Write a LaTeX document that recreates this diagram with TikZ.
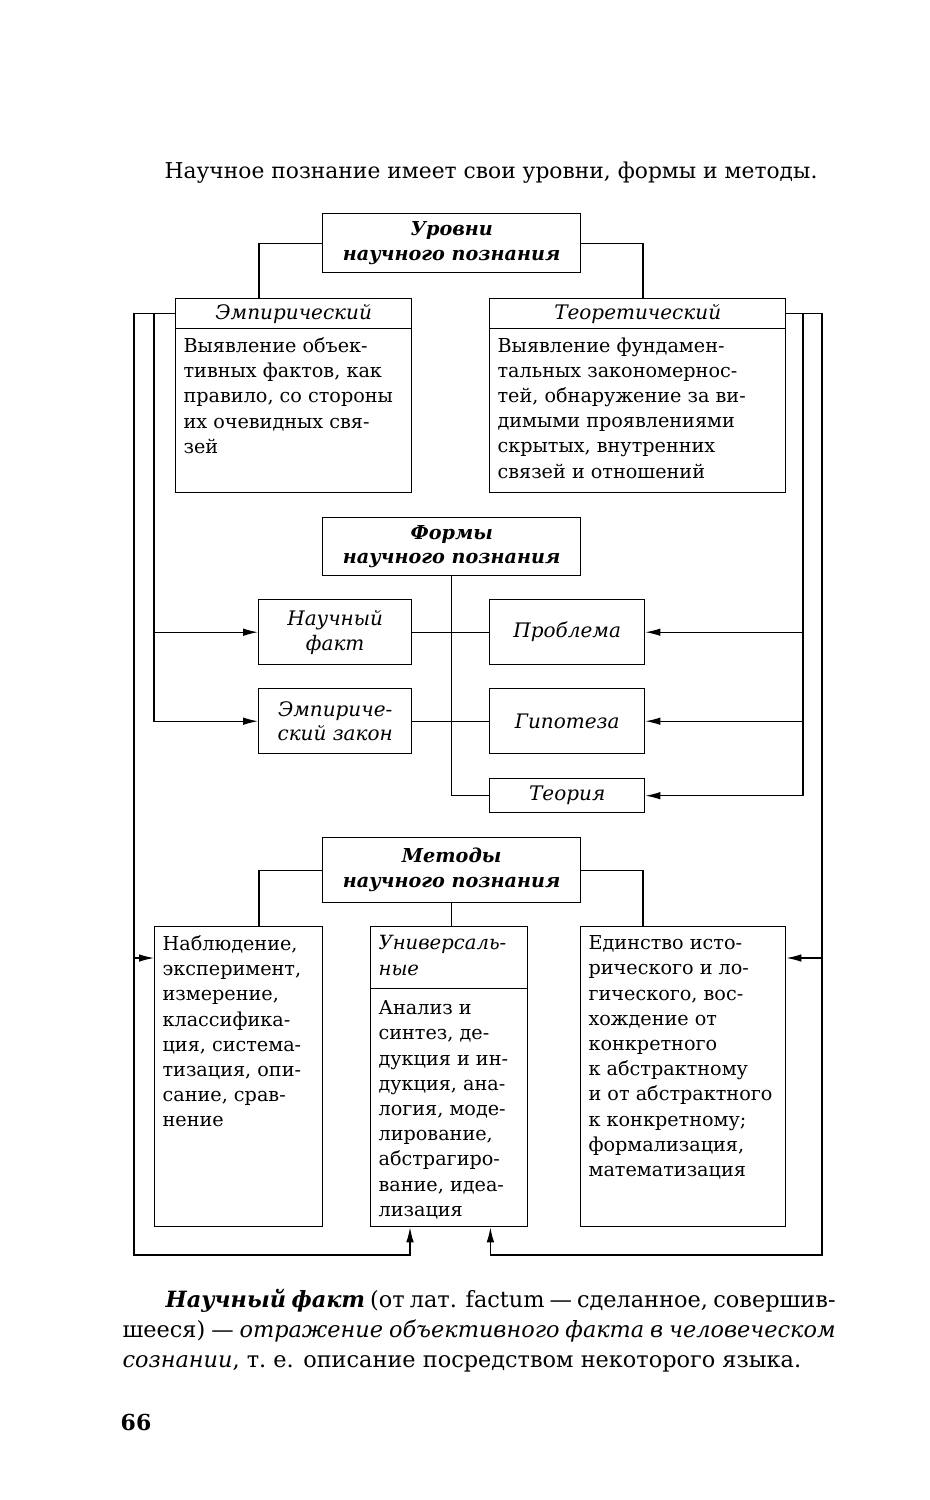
\documentclass[tikz,border=0pt]{standalone}
\usepackage{fontspec}
\setmainfont{DejaVu Serif}
\usetikzlibrary{arrows.meta}
\begin{document}
\begin{tikzpicture}[x=0.5pt,y=-0.5pt,
    every node/.style={black},
    box/.style={draw,line width=0.7pt,inner sep=0pt,anchor=north west},
    head/.style={font=\fontsize{9.6}{12.4}\selectfont\bfseries\itshape,align=center},
    lbl/.style={font=\fontsize{10}{12.4}\selectfont\itshape,align=center},
    txt/.style={font=\fontsize{9.6}{12.6}\selectfont,align=left,inner sep=0pt,anchor=north west},
    arr/.style={-{Latex[length=7.5pt,width=3.8pt]}},
    line width=0.6pt
  ]
  \useasboundingbox (0,0) rectangle (930,1500);
  \node[font=\fontsize{10.9}{13}\selectfont] (intro) at (491,173) {Научное познание имеет свои уровни, формы и методы.};

  % levels
  \node[box,head,minimum width=129pt,minimum height=29.5pt] (urovni) at (322,213) {Уровни\\научного познания};
  \node[box,lbl,minimum width=118pt,minimum height=15pt] (emptitle) at (175,298) {Эмпирический};
  \node[box,minimum width=118pt,minimum height=82pt] (emp) at (175,328) {};
  \node[txt] (emptxt) at ([xshift=4pt,yshift=-4.5pt]emp.north west) {Выявление объек-\\тивных фактов, как\\правило, со стороны\\их очевидных свя-\\зей};
  \node[box,lbl,minimum width=148pt,minimum height=15pt] (teortitle) at (489,298) {Теоретический};
  \node[box,minimum width=148pt,minimum height=82pt] (teor) at (489,328) {};
  \node[txt] (teortxt) at ([xshift=4pt,yshift=-4.5pt]teor.north west) {Выявление фундамен-\\тальных закономернос-\\тей, обнаружение за ви-\\димыми проявлениями\\скрытых, внутренних\\связей и отношений};

  % forms
  \node[box,head,minimum width=129pt,minimum height=29pt] (formy) at (322,517) {Формы\\научного познания};
  \node[box,lbl,minimum width=76.5pt,minimum height=32.5pt] (fakt) at (258,599) {Научный\\факт};
  \node[box,lbl,minimum width=76.5pt,minimum height=32.5pt] (zakon) at (258,688) {Эмпириче-\\ский закон};
  \node[box,lbl,minimum width=77.5pt,minimum height=32.5pt] (problema) at (489,599) {Проблема};
  \node[box,lbl,minimum width=77.5pt,minimum height=32.5pt] (gipoteza) at (489,688) {Гипотеза};
  \node[box,lbl,minimum width=77.5pt,minimum height=17pt] (teoriya) at (489,778) {Теория};

  % methods
  \node[box,head,minimum width=129pt,minimum height=32.5pt] (metody) at (322,837) {Методы\\научного познания};
  \node[box,minimum width=84pt,minimum height=150pt] (nabl) at (154,926) {};
  \node[txt] (nabltxt) at ([xshift=4pt,yshift=-4.5pt]nabl.north west) {Наблюдение,\\эксперимент,\\измерение,\\классифика-\\ция, система-\\тизация, опи-\\сание, срав-\\нение};
  \node[box,minimum width=78.5pt,minimum height=31pt] (univtitle) at (370,926) {};
  \node[txt,font=\fontsize{9.8}{12.6}\selectfont\itshape] (univtitletxt) at ([xshift=4pt,yshift=-4.5pt]univtitle.north west) {Универсаль-\\ные};
  \node[box,minimum width=78.5pt,minimum height=119pt] (univ) at (370,988) {};
  \node[txt] (univtxt) at ([xshift=4pt,yshift=-6pt]univ.north west) {Анализ и\\синтез, де-\\дукция и ин-\\дукция, ана-\\логия, моде-\\лирование,\\абстрагиро-\\вание, идеа-\\лизация};
  \node[box,minimum width=102.5pt,minimum height=150pt] (edin) at (580,926) {};
  \node[txt] (edintxt) at ([xshift=4pt,yshift=-4.5pt]edin.north west) {Единство исто-\\рического и ло-\\гического, вос-\\хождение от\\конкретного\\к абстрактному\\и от абстрактного\\к конкретному;\\формализация,\\математизация};

  % tree lines
  \draw (urovni.west) -| ([xshift=42pt]emptitle.north west);
  \draw (urovni.east) -| ([xshift=77pt]teortitle.north west);
  \draw (formy.south) |- (teoriya.west);
  \draw (fakt.east) -- (problema.west);
  \draw (zakon.east) -- (gipoteza.west);
  \draw (metody.west) -| ([xshift=52.5pt]nabl.north west);
  \draw (metody.east) -| ([xshift=31.5pt]edin.north west);
  \draw (metody.south) -- (metody.south |- univtitle.north);

  % feedback lines
  \coordinate (lbot) at (134,1255);
  \coordinate (ltop) at (154,313);
  \coordinate (rbot) at (822,1255);
  \coordinate (rtop) at (803,313);
  \coordinate (nablin) at ([yshift=-16pt]nabl.north west);
  \coordinate (edinin) at ([yshift=-16pt]edin.north east);
  \draw[arr] (emptitle.west) -| (lbot) -| ([xshift=20pt]univ.south west);
  \draw[arr] (ltop) |- (fakt.west);
  \draw[arr] (ltop) |- (zakon.west);
  \draw[arr] (nablin -| lbot) -- (nablin);
  \draw[arr] (teortitle.east) -| (rbot) -| ([xshift=-19pt]univ.south east);
  \draw[arr] (rtop) |- (problema.east);
  \draw[arr] (rtop) |- (gipoteza.east);
  \draw[arr] (rtop) |- (teoriya.east);
  \draw[arr] (edinin -| rbot) -- (edinin);

  \node[anchor=north west,text width=356.5pt,align=justify,inner sep=0pt,font=\fontsize{11.2}{15}\selectfont] (factdef) at (122,1289) {\hspace*{21.5pt}\textbf{\textit{Научный факт}} (от лат. factum — сделанное, совершив-\linebreak шееся) — \textit{отражение объективного факта в человеческом\linebreak сознании}, т.~е. описание посредством некоторого языка.};
  \node[font=\fontsize{11}{13}\selectfont\bfseries] (pagenum) at (136,1422) {66};
\end{tikzpicture}
\end{document}
